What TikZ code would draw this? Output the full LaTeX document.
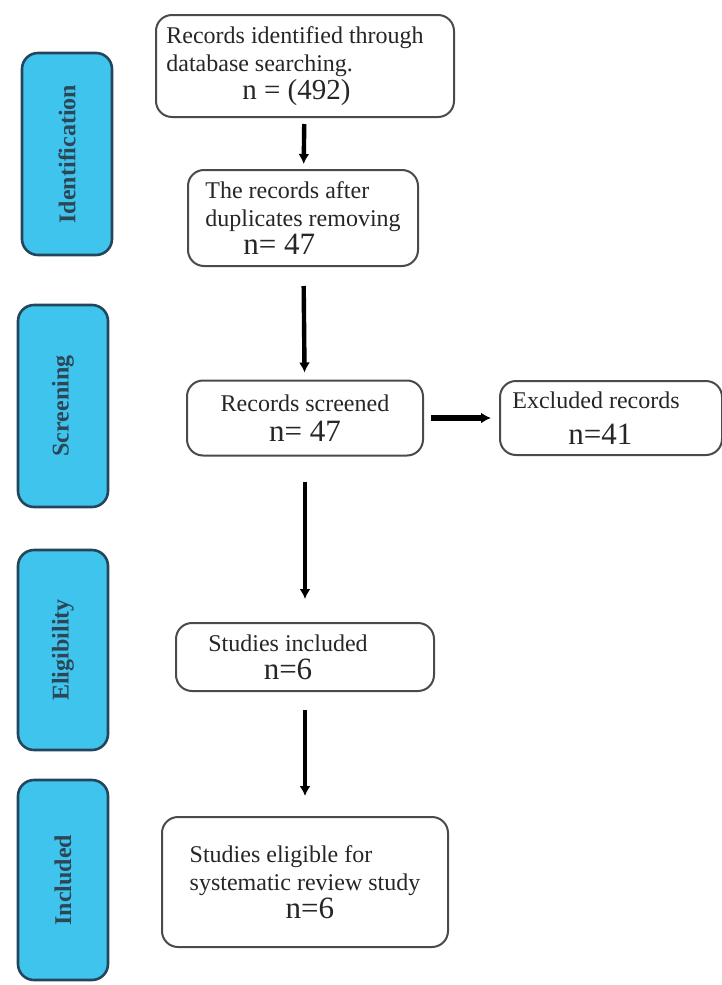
\documentclass[tikz,border=0pt]{standalone}
\usepackage{fontspec}
\setmainfont{Liberation Serif}
\usepackage{tikz}
\usetikzlibrary{arrows.meta,positioning}
\usepackage{xcolor}
\definecolor{prismacyan}{HTML}{3FC4EE}
\definecolor{prismaedge}{HTML}{24465A}
\definecolor{prismagray}{HTML}{4A4A4A}
\definecolor{prismatext}{HTML}{2C4656}
\newcommand{\bign}[1]{{\fontsize{15.5}{17}\selectfont #1}}

\begin{document}
\begin{tikzpicture}[
  x=0.5pt,y=-0.5pt,
  every node/.style={font=\fontsize{12}{14}\selectfont},
  stage/.style={draw=prismaedge,line width=1.3pt,rounded corners=8pt,fill=prismacyan,minimum height=45pt,text=prismatext,font=\fontsize{12}{14}\selectfont\bfseries,rotate=90},
  rec/.style={draw=prismagray,line width=1pt,rounded corners=8pt,fill=white,inner sep=3pt,text=black!85},
  arr/.style={-{Latex[length=5pt,width=5.5pt]},line width=2.2pt}
]
\useasboundingbox (0,0) rectangle (722,985);

% stage labels on the left
\node[stage,minimum width=101pt] (ident) at (67,154) {Identification};
\node[stage,minimum width=101pt] (screen) at (63,406) {Screening};
\node[stage,minimum width=100pt] (elig) at (63,650) {Eligibility};
\node[stage,minimum width=100pt] (incl) at (63,880) {Included};

% record boxes
\node[rec,minimum width=149pt,minimum height=51pt,align=left] (found) at (305,66)
  {Records identified through\hspace*{10pt}\\database searching.\\\hspace*{38pt}{\fontsize{14.5}{16}\selectfont n = (492)}};
\node[rec,minimum width=115pt,minimum height=48pt,align=left] (dedup) at (303,218)
  {The records after\\duplicates removing\\\hspace*{19pt}\bign{n= 47}};
\node[rec,minimum width=118pt,minimum height=37.5pt,align=center] (screened) at (305,418)
  {Records screened\\[1pt]\bign{n= 47}};
\node[rec,minimum width=111pt,minimum height=37pt,align=left] (excluded) at (611,418)
  {Excluded records\hspace*{15pt}\\[4pt]\hspace*{28pt}\bign{n=41}};
\node[rec,minimum width=129pt,minimum height=34pt,align=center] (incstud) at (305,657)
  {Studies included\hspace*{17pt}\\\bign{n=6}\hspace*{17pt}};
\node[rec,minimum width=143pt,minimum height=65pt,align=left] (eligible) at (305,882)
  {Studies eligible for\\systematic review study\\\hspace*{48pt}\bign{n=6}};

% connectors
\draw[arr,shorten <=3pt,shorten >=2.5pt] (found) -- (dedup);
\draw[arr,shorten <=9.5pt,shorten >=3.5pt] (dedup) -- (screened);
\draw[arr,line width=2.6pt,shorten <=3.5pt,shorten >=4pt] (screened) -- (excluded);
\draw[arr,shorten <=12.5pt,shorten >=11.5pt] (screened) -- (incstud);
\draw[arr,shorten <=9pt,shorten >=10pt] (incstud) -- (eligible);
\end{tikzpicture}
\end{document}
